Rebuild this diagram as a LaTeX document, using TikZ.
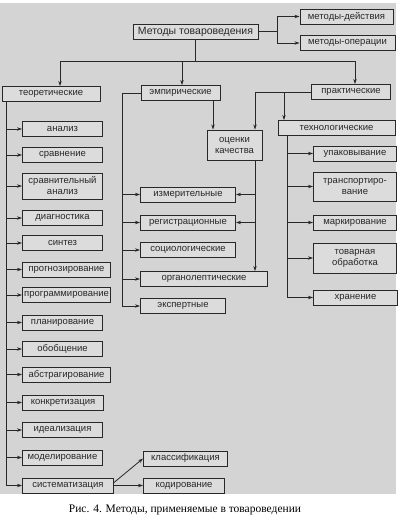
\documentclass[tikz,border=0pt]{standalone}
\usepackage{fontspec}
\setmainfont{Liberation Serif}
\setsansfont{Liberation Sans}
\usetikzlibrary{arrows.meta}
\definecolor{photo}{RGB}{212,212,212}
\definecolor{boxfill}{RGB}{220,220,220}
\definecolor{ink}{RGB}{40,40,40}

\begin{document}
\begin{tikzpicture}[x=1pt, y=-1pt,
  box/.style={draw=ink, fill=boxfill, line width=1pt, text=ink, align=center,
    font=\sffamily\fontsize{9.5}{11}\selectfont, inner sep=1pt, minimum height=15pt},
  lbox/.style={box, anchor=west},
  ln/.style={draw=ink, line width=0.8pt},
  arr/.style={ln, -{Stealth[length=5pt,width=3.4pt]}}]
\useasboundingbox (0,0) rectangle (401,525);
\fill[photo] (0,3) rectangle (396,494); % photo area

% top
\node[box, minimum width=125pt, font=\sffamily\fontsize{10.5}{12}\selectfont] (main) at (195.5,31.5) {Методы товароведения};
\node[box, minimum width=93pt] (dejst) at (346.5,16.5) {методы-действия};
\node[box, minimum width=95pt] (oper) at (347.5,43) {методы-операции};
\coordinate (split) at (277,31.5);
\draw[ln] (main.east) -- (split);
\draw[arr] (split) |- (dejst); % to actions
\draw[arr] (split) |- (oper); % to operations

\node[box, minimum width=98pt] (teor) at (51,94) {теоретические};
\node[box, minimum width=79pt] (emp) at (180.5,93) {эмпирические};
\node[box, minimum width=79pt] (prakt) at (351,92) {практические};
\coordinate (fork) at (195.5,61);
\draw[ln] (main.south) -- (fork);
\draw[arr] (fork) -| ([xshift=9]teor.north);
\draw[arr] (fork) -| ([xshift=1.5]emp.north);
\draw[arr] (fork) -| ([xshift=4]prakt.north);

% theoretical
\node[lbox, minimum width=80pt] (analiz) at (22,129) {анализ};
\node[lbox, minimum width=80pt] (sravn) at (22,155) {сравнение};
\node[lbox, minimum width=80pt, minimum height=26pt] (sranal) at (22,186) {сравнительный\\анализ};
\node[lbox, minimum width=80pt] (diagn) at (22,218) {диагностика};
\node[lbox, minimum width=80pt] (sintez) at (22,243) {синтез};
\node[lbox, minimum width=88pt] (prognoz) at (22,269.5) {прогнозирование};
\node[lbox, minimum width=88pt] (program) at (22,295) {программирование};
\node[lbox, minimum width=80pt] (plan) at (22,322.5) {планирование};
\node[lbox, minimum width=80pt] (obob) at (22,349) {обобщение};
\node[lbox, minimum width=88pt] (abstr) at (22,374.5) {абстрагирование};
\node[lbox, minimum width=81pt] (konkr) at (22,402.5) {конкретизация};
\node[lbox, minimum width=80pt] (ideal) at (22,430) {идеализация};
\node[lbox, minimum width=80pt] (model) at (22,457.5) {моделирование};
\node[lbox, minimum width=91pt] (sistem) at (22,485.5) {систематизация};
\coordinate (tt) at (6,102);
\draw[ln] (tt) -- (tt |- sistem);
\foreach \n in {analiz,sravn,sranal,diagn,sintez,prognoz,program,plan,obob,abstr,konkr,ideal,model,sistem}
  \draw[arr] (tt |- \n) -- (\n);

\node[lbox, minimum width=84pt] (klass) at (143,458.5) {классификация};
\node[lbox, minimum width=81pt] (kodir) at (143,485.5) {кодирование};
\draw[arr] ([yshift=3]sistem.east) -- (klass.west);
\draw[arr] (sistem.east) -- (kodir);

% empirical
\node[lbox, minimum width=95pt] (izmer) at (140,194.5) {измерительные};
\node[lbox, minimum width=95pt] (registr) at (140,222.5) {регистрационные};
\node[lbox, minimum width=95pt] (sociol) at (140,250) {социологические};
\node[lbox, minimum width=127pt] (organ) at (140,279) {органолептические};
\node[lbox, minimum width=85pt] (ekspert) at (140,306) {экспертные};
\coordinate (et) at (122,93);
\draw[ln] (emp.west) -- (et) -- (et |- ekspert);
\foreach \n in {izmer,registr,sociol,organ,ekspert}
  \draw[arr] (et |- \n) -- (\n);

\node[box, minimum width=55pt, minimum height=30pt] (ocenki) at (234.5,145) {оценки\\качества};
\coordinate (oa) at ([xshift=-21.5]ocenki.north);
\coordinate (ob) at ([xshift=20.5]ocenki.north);
\coordinate (oc) at ([xshift=20.5]ocenki.south);
\draw[arr] (oa |- emp.south) -- (oa);
\draw[arr] (prakt.west) -- (ob |- prakt.west) -- (ob);
\draw[arr] (oc) -- (oc |- organ.north);
\draw[arr] (oc |- izmer) -- (izmer);
\draw[arr] (oc |- registr) -- (registr);

% practical
\node[box, minimum width=117pt] (techn) at (336.5,128) {технологические};
\node[lbox, minimum width=83pt] (upak) at (313,153.5) {упаковывание};
\node[lbox, minimum width=83pt, minimum height=29pt] (transp) at (313,186.5) {транспортиро-\\вание};
\node[lbox, minimum width=83pt] (mark) at (313,222.5) {маркирование};
\node[lbox, minimum width=83pt, minimum height=30pt] (tovar) at (313,258) {товарная\\обработка};
\node[lbox, minimum width=84pt] (hran) at (313,297.5) {хранение};
\coordinate (pb) at ([xshift=-52.5]techn.north);
\coordinate (tk) at ([xshift=-49.5]techn.south);
\draw[arr] (pb |- prakt.west) -- (pb);
\draw[ln] (tk) -- (tk |- hran);
\foreach \n in {upak,transp,mark,tovar,hran}
  \draw[arr] (tk |- \n) -- (\n);

\node[font=\fontsize{11.5}{13}\selectfont] (cap) at (185,510) {Рис. 4. Методы, применяемые в товароведении};
\end{tikzpicture}
\end{document}
